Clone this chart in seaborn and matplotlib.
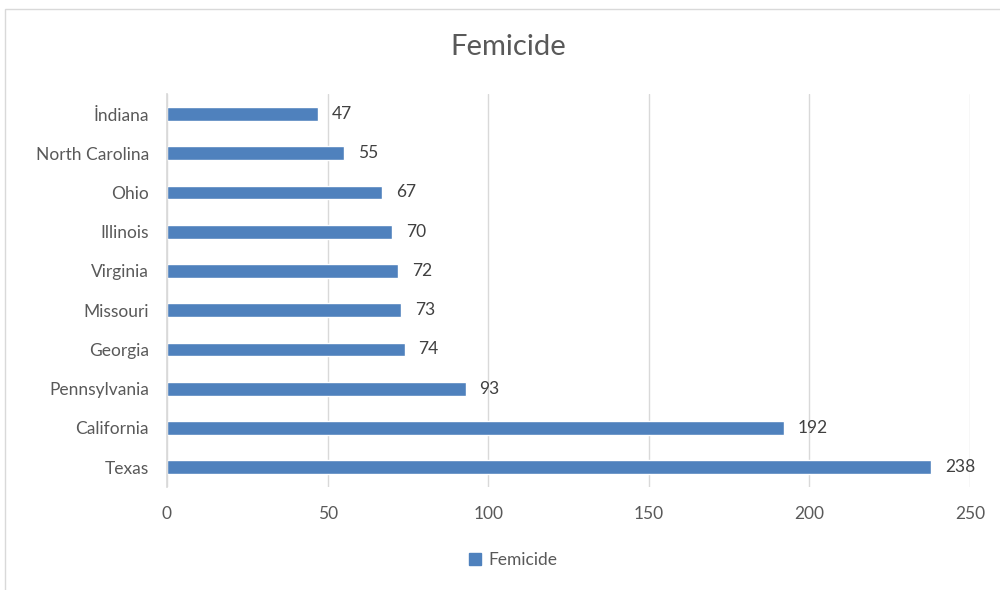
import matplotlib
matplotlib.use("Agg")
import matplotlib.pyplot as plt
import matplotlib.patches as mpatches
import pandas as pd
import seaborn as sns

# Daten (von oben nach unten)
states = ["İndiana", "North Carolina", "Ohio", "Illinois", "Virginia",
          "Missouri", "Georgia", "Pennsylvania", "California", "Texas"]
femicide = [47, 55, 67, 70, 72, 73, 74, 93, 192, 238]
x_ticks = [0, 50, 100, 150, 200, 250]

df = pd.DataFrame({"state": states, "Femicide": femicide})

sns.set_theme(style="white")
plt.rcParams["font.family"] = ["Lato", "DejaVu Sans"]

bar_color = "#4F81BD"
text_color = "#595959"

fig = plt.figure(figsize=(10, 5.9), dpi=100)
ax = fig.add_axes([0.167, 0.175, 0.803, 0.665])

sns.barplot(data=df, y="state", x="Femicide", orient="h", color=bar_color,
            width=0.35, saturation=1, ax=ax)

# Wertebeschriftungen am Balkenende
for container in ax.containers:
    ax.bar_label(container, padding=10, fontsize=12.5, color="#404040")

ax.set_xlim(0, 250)
ax.set_xticks(x_ticks)
ax.set_xlabel("")
ax.set_ylabel("")
ax.xaxis.grid(True, color="#D9D9D9", linewidth=1)
ax.set_axisbelow(True)
for side in ["top", "right", "bottom"]:
    ax.spines[side].set_visible(False)
ax.spines["left"].set_color("#D9D9D9")
ax.tick_params(axis="both", length=0, labelsize=12.5, labelcolor=text_color)
ax.tick_params(axis="x", pad=14)
ax.tick_params(axis="y", pad=13)

fig.text(0.508, 0.92, "Femicide", ha="center", va="center",
         fontsize=21, color=text_color)

# Legende unten
handle = mpatches.Patch(color=bar_color, label="Femicide")
fig.legend(handles=[handle], loc="center", bbox_to_anchor=(0.513, 0.051),
           frameon=False, fontsize=12.5, handlelength=0.7, handleheight=0.7,
           handletextpad=0.4, labelcolor=text_color)

# Rahmen um das Diagramm
fig.patches.append(mpatches.Rectangle((0.005, -0.1), 1.2, 1.085,
                                      transform=fig.transFigure, fill=False,
                                      edgecolor="#D9D9D9", linewidth=1))

fig.savefig("out.png", dpi=100)
